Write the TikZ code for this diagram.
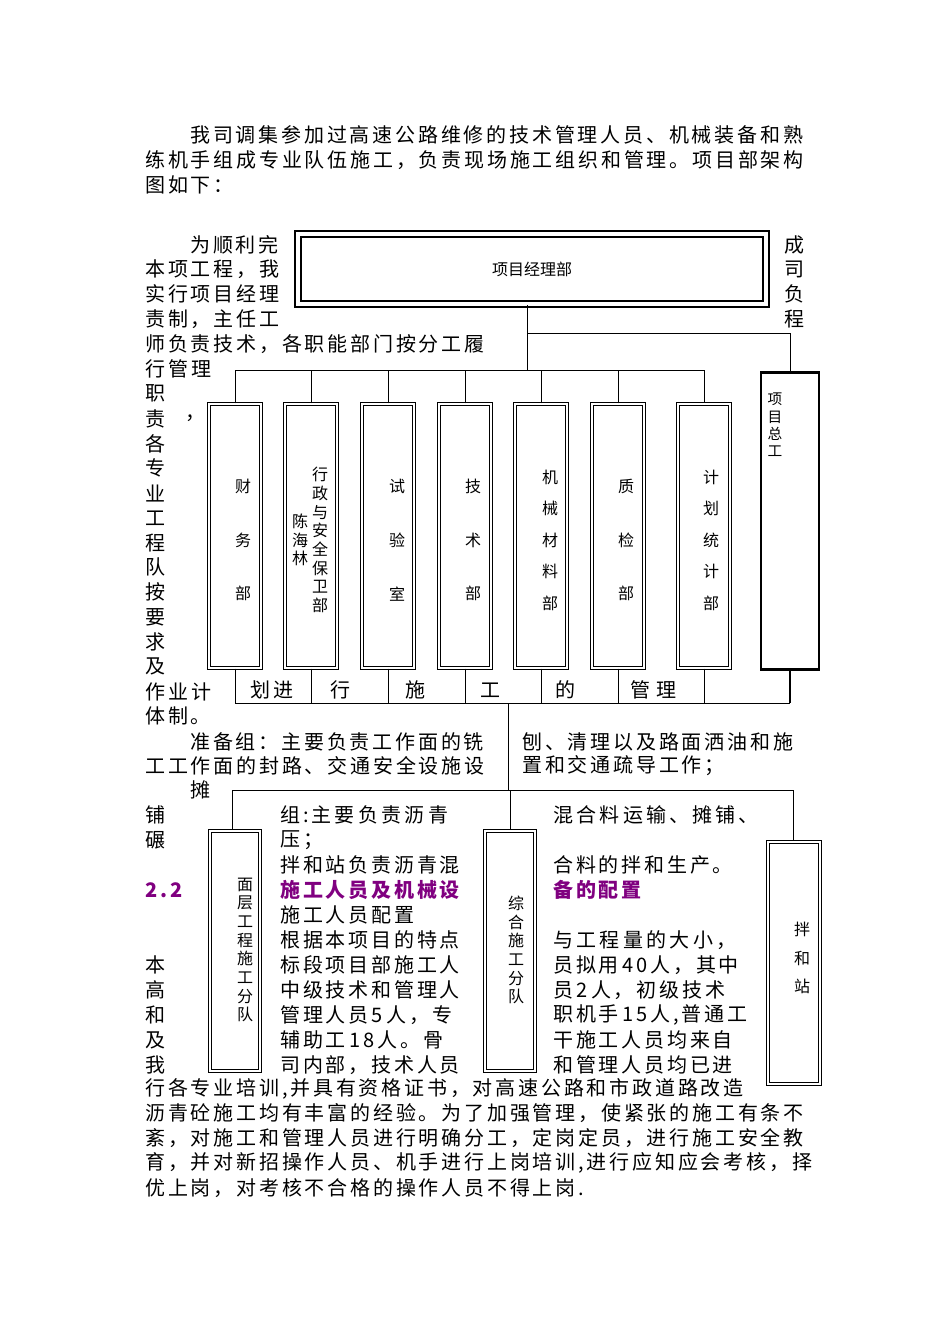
\documentclass[tikz,border=0pt]{standalone}
\usepackage{fontspec}
\setmainfont{Noto Sans CJK SC}
\newfontfamily\bodyf[LetterSpace=14]{Noto Sans CJK SC}
\newfontfamily\boxf{Noto Sans CJK SC}
\definecolor{purp}{RGB}{128,0,128}
\begin{document}
\begin{tikzpicture}[x=0.75pt,y=-0.75pt,
 tx/.style={anchor=west,inner sep=0pt,font=\fontsize{15pt}{18pt}\bodyf},
 pp/.style={tx,text=purp,font=\fontsize{15pt}{18pt}\bodyf\bfseries},
 vt/.style={inner sep=0pt,align=center,font=\fontsize{12pt}{14pt}\boxf},
 dbox/.style={draw,double,double distance=1.6pt,line width=0.8pt},
 sbox/.style={draw,line width=1.6pt},
 ln/.style={line width=0.7pt}]
\useasboundingbox (0,0) rectangle (950,1344);
% top text
\node[tx] (l1) at (190,135) {我司调集参加过高速公路维修的技术管理人员、机械装备和熟};
\node[tx] (l2) at (145,160) {练机手组成专业队伍施工，负责现场施工组织和管理。项目部架构};
\node[tx] (l3) at (145,185) {图如下：};
% left column
\node[tx] (a1) at (190,245) {为顺利完};
\node[tx] (a2) at (145,269) {本项工程，我};
\node[tx] (a3) at (145,294) {实行项目经理};
\node[tx] (a4) at (145,319) {责制，主任工};
\node[tx] (a5) at (145,344) {师负责技术，各职能部门按分工履};
\node[tx] (a6) at (145,369) {行\,管\,理};
\foreach \c [count=\i] in {职,责,各,专,业,工,程,队,按,要,求,及}
  \node[tx] (v\i) at (145,369+24.8*\i) {\c};
\node[tx] (cm) at (185,418) {，};
\node[tx] (a7) at (145,692) {作\,业\,计};
\node[tx] (a8) at (145,716) {体制。};
\foreach \c [count=\i] in {成,司,负,程}
  \node[tx] (r\i) at (784,220+24.8*\i) {\c};
% top box
\node[draw,double,double distance=2.5pt,line width=2pt,minimum width=468*0.75pt,minimum height=70*0.75pt,font=\fontsize{12pt}{14pt}\boxf] (pm) at (532,269) {项目经理部};
\coordinate (j1) at (527,333);
\coordinate (j2) at (790,333);
\coordinate (j3) at (527,370);
\draw[ln] (pm.south -| j1) -- (j3);
\draw[ln] (j1) -- (j2);
% chief engineer
\node[sbox,minimum width=58*0.75pt,minimum height=297*0.75pt] (zg) at (790,521) {};
\node[vt,font=\fontsize{11pt}{13pt}\boxf] (zgt) at (775,425) {项\\目\\总\\工};
\draw[ln] (j2) -- (zg.north);
% departments
\foreach \n/\x in {b1/235,b2/311,b3/388,b4/465,b5/541,b6/618,b7/704}{
  \node[dbox,minimum width=52*0.75pt,minimum height=264*0.75pt] (\n) at (\x,536) {};
}
\draw[ln] (b1.north) -- (b1.north |- j3) -- (b7.north |- j3) -- (b7.north);
\foreach \n in {b2,b3,b4,b5,b6} \draw[ln] (\n.north) -- (\n.north |- j3);
\node[vt] (t1) at (243,540) {财\\[2.2em]务\\[2.2em]部};
\node[vt] (t2a) at (320,540) {行\\政\\与\\安\\全\\保\\卫\\部};
\node[vt] (t2b) at (300,540) {陈\\海\\林};
\node[vt] (t3) at (397,540) {试\\[2.2em]验\\[2.2em]室};
\node[vt] (t4) at (473,540) {技\\[2.2em]术\\[2.2em]部};
\node[vt] (t5) at (550,540) {机\\[0.8em]械\\[0.8em]材\\[0.8em]料\\[0.8em]部};
\node[vt] (t6) at (626,540) {质\\[2.2em]检\\[2.2em]部};
\node[vt] (t7) at (711,540) {计\\[0.8em]划\\[0.8em]统\\[0.8em]计\\[0.8em]部};
% bottom row
\coordinate (h1) at (235,703);
\coordinate (h2) at (790,703);
\draw[ln] (h1) -- (h2);
\foreach \n in {b1,b2,b3,b4,b5,b6,b7} \draw[ln] (\n.south) -- (\n.south |- h1);
\draw[line width=1.4pt] (zg.south) -- (zg.south |- h2);
\node[tx] (m1) at (250,690) {划进};
\node[tx] (m2) at (330,690) {行};
\node[tx] (m3) at (405,690) {施};
\node[tx] (m4) at (480,690) {工};
\node[tx] (m5) at (555,690) {的};
\node[tx] (m6) at (630,690) {管\,\,理};
% middle link
\coordinate (k1) at (508,703);
\coordinate (k2) at (508,790);
\draw[ln] (k1) -- (k2);
\coordinate (k3) at (232,790);
\coordinate (k4) at (793,790);
\draw[ln] (k3) -- (k4);
\node[dbox,minimum width=50*0.75pt,minimum height=240*0.75pt] (c1) at (235,951) {};
\node[dbox,minimum width=50*0.75pt,minimum height=240*0.75pt] (c2) at (510,951) {};
\node[dbox,minimum width=52*0.75pt,minimum height=242*0.75pt] (c3) at (794,963) {};
\draw[ln] (k3) -- (k3 |- c1.north);
\draw[ln] (c2.north |- k3) -- (c2.north);
\draw[ln] (k4) -- (k4 |- c3.north);
\node[vt] (s1) at (245,950) {面\\层\\工\\程\\施\\工\\分\\队};
\node[vt] (s2) at (516,950) {综\\合\\施\\工\\分\\队};
\node[vt] (s3) at (802,958) {拌\\[0.6em]和\\[0.6em]站};
% middle text
\node[tx] (n1) at (190,742) {准备组：主要负责工作面的铣};
\node[tx] (n2) at (522,742) {刨、清理以及路面洒油和施};
\node[tx] (n3) at (145,766) {工工作面的封路、交通安全设施设};
\node[tx] (n4) at (522,766) {置和交通疏导工作；};
\node[tx] (n5) at (190,790) {摊};
\node[tx] (n6) at (145,815) {铺};
\node[tx] (n7) at (145,840) {碾};
\node[tx] (n8) at (280,815) {组:主\,要\,负\,责\,沥\,青};
\node[tx] (n9) at (280,840) {压；};
\node[tx] (n10) at (553,815) {混\,合\,料\,运\,输、摊\,铺、};
\node[tx] (n11) at (280,865) {拌和站负责沥青混};
\node[tx] (n12) at (553,865) {合料的拌和生产。};
\node[pp] (n13) at (145,890) {2.2};
\node[pp] (n14) at (280,890) {施工人员及机械设};
\node[pp] (n15) at (553,890) {备的配置};
\node[tx] (n16) at (280,915) {施工人员配置};
\node[tx] (n17) at (280,940) {根据本项目的特点};
\node[tx] (n18) at (553,940) {与\,工\,程\,量\,的\,大\,小，};
\node[tx] (n19) at (280,965) {标段项目部施工人};
\node[tx] (n20) at (553,965) {员拟用\,40\,人，其中};
\node[tx] (n21) at (280,990) {中级技术和管理人};
\node[tx] (n22) at (553,990) {员\,2\,人，初级技术};
\node[tx] (n23) at (280,1015) {管理人员\,5\,人，专};
\node[tx] (n24) at (553,1015) {职机手\,15\,人,普通工};
\node[tx] (n25) at (280,1040) {辅助工\,18\,人。骨};
\node[tx] (n26) at (553,1040) {干施工人员均来自};
\node[tx] (n27) at (280,1065) {司内部，技术人员};
\node[tx] (n28) at (553,1065) {和管理人员均已进};
\foreach \c [count=\i] in {本,高,和,及,我}
  \node[tx] (w\i) at (145,940+25*\i) {\c};
% bottom text
\node[tx] (e1) at (145,1089) {行各专业培训,并具有资格证书，对高速公路和市政道路改造};
\node[tx] (e2) at (145,1113) {沥青砼施工均有丰富的经验。为了加强管理，使紧张的施工有条不};
\node[tx] (e3) at (145,1138) {紊，对施工和管理人员进行明确分工，定岗定员，进行施工安全教};
\node[tx] (e4) at (145,1163) {育，并对新招操作人员、机手进行上岗培训,进行应知应会考核，择};
\node[tx] (e5) at (145,1188) {优上岗，对考核不合格的操作人员不得上岗.};
\end{tikzpicture}
\end{document}
